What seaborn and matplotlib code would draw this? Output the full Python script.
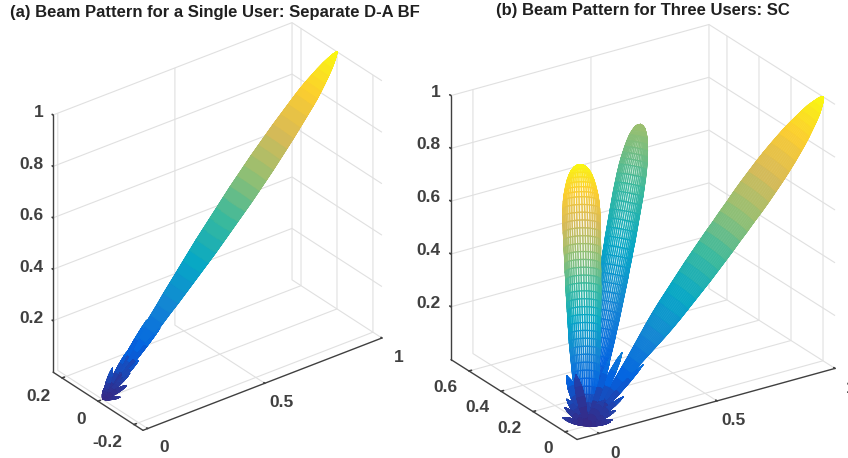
import numpy as np
import matplotlib
matplotlib.use("Agg")
import matplotlib.pyplot as plt
from matplotlib.transforms import ScaledTranslation
import seaborn as sns

sns.set_theme(style="white", rc={"grid.color": "#e0e0e0", "grid.linewidth": 0.8})
plt.rcParams["font.family"] = ["Liberation Sans", "DejaVu Sans"]
plt.rcParams["font.weight"] = "bold"

# parula, matlab default
parula = sns.blend_palette(["#352a87", "#0363e1", "#1485d4", "#06a7c6", "#38b99e",
                            "#92bf73", "#d9ba56", "#fcce2e", "#f9fb0e"], n_colors=256, as_cmap=True)

titles = ["(a) Beam Pattern for a Single User: Separate D-A BF",
          "(b) Beam Pattern for Three Users: SC"]

# gain along a lobe, shared by the main lobes
stations = [0, .01, .03, .05, .08, .11, .14, .17, .2, .23, .26, .29, .32, .35, .38, .41, .44, .47, .5, .53,
            .56, .59, .62, .65, .68, .71, .74, .77, .8, .83, .86, .88, .9, .92, .94, .96, .975, .99, .997, 1]

# half widths
beam_a_w = [0, .002, .005, .007, .01, .013, .016, .02, .023, .025, .027, .03, .032, .034, .036, .038, .04, .041,
            .042, .043, .044, .045, .045, .045, .045, .044, .043, .042, .04, .038, .036, .034, .031, .027, .023,
            .018, .013, .007, .003, 0]
right_w = [0, .003, .005, .007, .01, .013, .017, .021, .025, .03, .035, .04, .044, .047, .049, .051, .053, .055,
           .056, .057, .058, .058, .059, .059, .06, .06, .059, .058, .056, .053, .049, .046, .042, .037, .032,
           .026, .019, .011, .006, 0]
center_w = [0, .004, .011, .016, .022, .027, .03, .033, .036, .038, .04, .042, .043, .045, .046, .047, .048, .049,
            .05, .05, .051, .051, .052, .052, .052, .052, .052, .052, .051, .05, .048, .046, .043, .04, .036,
            .031, .025, .017, .009, 0]
left_w = [0, .006, .016, .024, .031, .036, .04, .043, .046, .048, .05, .052, .054, .055, .056, .057, .058, .059,
          .06, .061, .061, .062, .062, .063, .064, .064, .065, .065, .065, .064, .062, .06, .056, .052, .047,
          .04, .033, .022, .012, 0]

# lobe tips (x, y, z)
beam_a_tip = [1, 0, 1]
right_tip = [1, 0, 1]
center_tip = [.43, .3, .92]
left_tip = [.31, .5, .72]

# side lobes, same petal shape for all
petal_t = [0, .15, .35, .55, .75, .9, 1]
petal_w = [0, .5, .85, 1, .85, .5, 0]

side_a_x = [.228, .211, .138, .118, .1, .05, .07, .05, .09, .03]
side_a_y = [-.02, .03, -.02, .02, -.02, -.03, -.01, .01, -.015, .02]
side_a_z = [.205, .22, .112, .133, .075, .005, .05, .1, .03, .03]
side_a_gain = [.2, .22, .12, .14, .08, .03, .05, .1, .04, .04]
side_a_width = [.005, .006, .005, .006, .005, .005, .007, .007, .007, .007]

side_b_x = [.237, .162, .165, .153, .119, .099, .084, .05, .003, .002, -.047, .1, .02]
side_b_y = [0, .02, .1, 0, 0, -.01, -.02, .2, .13, .14, .08, .05, .1]
side_b_z = [.173, .229, .178, .072, .028, .002, .001, .1, .05, .014, .011, .05, .15]
side_b_gain = [.19, .24, .2, .1, .06, .04, .03, .16, .09, .05, .04, .06, .06]
side_b_width = [.008, .012, .009, .008, .007, .007, .006, .016, .01, .008, .008, .016, .014]

phi = np.linspace(0, 2 * np.pi, 45)


def draw_lobe(ax, tip, gain, width, peak=1.0, white=0.0, lw=0.5):
    tip = np.array(tip, dtype=float)
    d = tip / np.linalg.norm(tip)
    e1 = np.cross(d, [0, 0, 1])
    e1 = e1 / np.linalg.norm(e1)
    e2 = np.cross(d, e1)
    t = np.array(gain)[:, None]
    w = np.array(width)[:, None]
    ring = [w * (np.cos(phi) * e1[i] + np.sin(phi) * e2[i]) for i in range(3)]
    X = t * tip[0] + ring[0]
    Y = t * tip[1] + ring[1]
    Z = t * tip[2] + ring[2]
    colors = parula(np.repeat(t * peak, len(phi), axis=1))
    faces = colors * (1 - white) + white
    surf = ax.plot_surface(X, Y, Z, facecolors=faces, rstride=1, cstride=1, shade=False, linewidth=lw)
    surf.set_edgecolor(colors[:-1, :-1].reshape(-1, 4))
    return surf


def draw_petals(ax, xs, ys, zs, gains, widths):
    for x, y, z, g, wd in zip(xs, ys, zs, gains, widths):
        draw_lobe(ax, [x, y, z], petal_t, np.array(petal_w) * wd, peak=g)


def nudge(axis, ax, dx, dy):
    # mplot3d resets the label transform in get_major_ticks, so wrap it to shift labels by pixels
    off = ax.transData + ScaledTranslation(dx / 100, dy / 100, ax.figure.dpi_scale_trans)
    orig = axis.get_major_ticks

    def shifted(numticks=None):
        ticks = orig(numticks)
        for t in ticks:
            t.label1.set_transform(off)
        return ticks
    axis.get_major_ticks = shifted


def setup(ax, xlim, ylim, yticks, elev, azim, aspect, x_off, y_off, z_off):
    ax.set_proj_type("ortho")
    ax.view_init(elev=elev, azim=azim)
    ax.set_box_aspect(aspect)
    ax.set_xlim(*xlim, view_margin=0)
    ax.set_ylim(*ylim, view_margin=0)
    ax.set_zlim(0, 1, view_margin=0)
    ax.set_xticks([0, .5, 1], ["0", "0.5", "1"])
    ax.set_yticks(yticks, [f"{v:g}" for v in yticks])
    ax.set_zticks([.2, .4, .6, .8, 1], ["0.2", "0.4", "0.6", "0.8", "1"])
    ax.computed_zorder = False
    ax.patch.set_alpha(0)
    for axis in (ax.xaxis, ax.yaxis, ax.zaxis):
        axis.pane.set_facecolor((1, 1, 1, 0))
        axis.pane.set_edgecolor((1, 1, 1, 0))
        axis.line.set_color("#404040")
        axis.line.set_linewidth(1.0)
        axis._axinfo["tick"]["inward_factor"] = 0.0
        axis._axinfo["tick"]["outward_factor"] = 0.12
    ax.tick_params(labelsize=12.5, colors="#404040", pad=3, width=0.8)
    ax.tick_params(axis="x", pad=9)
    # z ticks point along y like matlab, keep the axis on the left edge
    ax.zaxis._get_tickdir = lambda pos: 1
    plt.setp(ax.get_xticklabels(), va="bottom")
    plt.setp(ax.get_yticklabels(), va="bottom", ha="right")
    plt.setp(ax.get_zticklabels(), va="center", ha="right")
    nudge(ax.xaxis, ax, *x_off)
    nudge(ax.yaxis, ax, *y_off)
    nudge(ax.zaxis, ax, *z_off)


def place(fig, px_center, aspect):
    # square axes sized so the box comes out at aspect pixels
    side = np.linalg.norm(aspect) * 1.85 / 1.9057
    w, h = fig.get_size_inches() * fig.dpi
    left = px_center[0] - .5135 * side
    bottom = (h - px_center[1]) - .5135 * side
    return fig.add_axes([left / w, bottom / h, side / w, side / h], projection="3d")


fig = plt.figure(figsize=(8.48, 4.58), dpi=100)

aspect_a = (302, 147, 297)
ax1 = place(fig, (217.5, 226.5), aspect_a)
setup(ax1, (-.02, 1), (-.25, .25), [-.2, 0, .2], 30, -127.7, aspect_a, (7, 6), (4.5, -2), (13, 4.5))
draw_lobe(ax1, beam_a_tip, stations, beam_a_w)
draw_petals(ax1, side_a_x, side_a_y, side_a_z, side_a_gain, side_a_width)

aspect_b = (309, 229, 290.6)
ax2 = place(fig, (643, 232), aspect_b)
setup(ax2, (-.093, 1), (-.075, .7125), [0, .2, .4, .6], 24.7, -123.4, aspect_b, (4, 6), (4.5, -3), (14, 3))
draw_lobe(ax2, right_tip, stations, right_w, white=0.05)
draw_lobe(ax2, center_tip, stations, center_w, peak=.65, white=0.85, lw=0.9)
draw_lobe(ax2, left_tip, stations, left_w, white=0.85, lw=0.9)
draw_petals(ax2, side_b_x, side_b_y, side_b_z, side_b_gain, side_b_width)

fig.text(10 / 848, 1 - 12 / 458, titles[0], fontsize=12, fontweight="bold", color="#202020", va="center", ha="left")
fig.text(496 / 848, 1 - 10 / 458, titles[1], fontsize=12, fontweight="bold", color="#202020", va="center", ha="left")

fig.savefig("out.png", dpi=100)
